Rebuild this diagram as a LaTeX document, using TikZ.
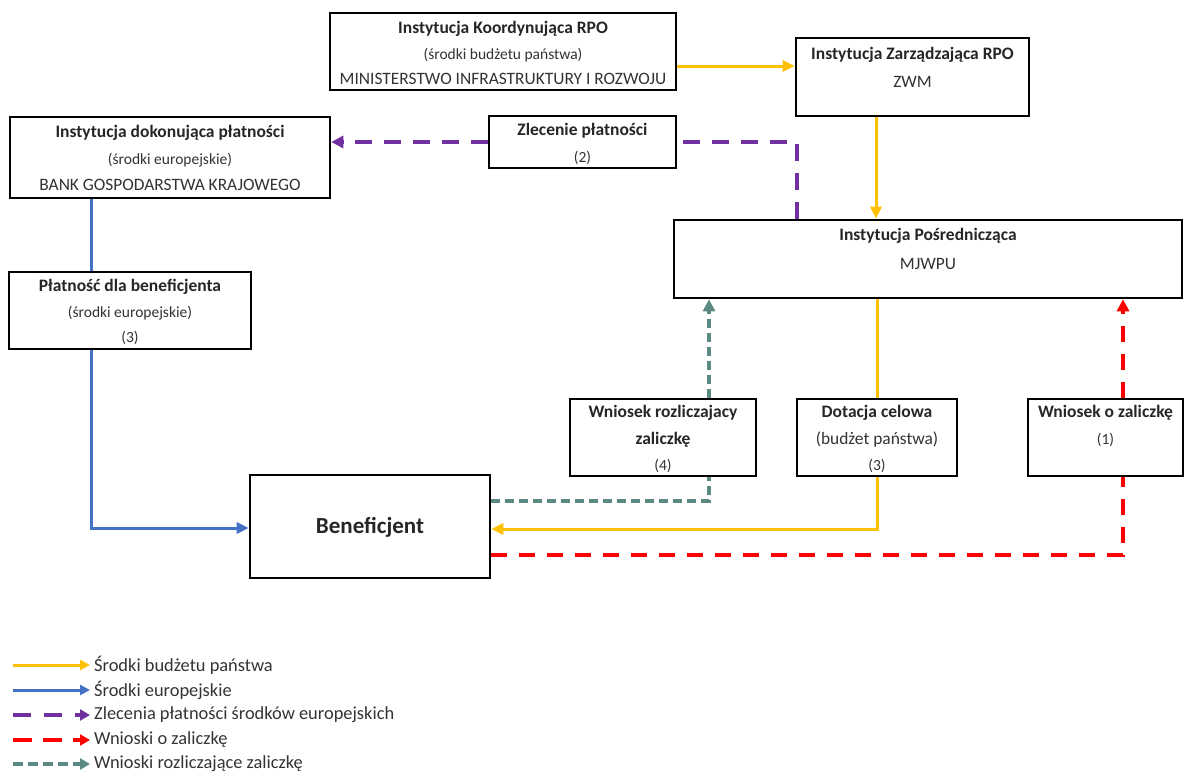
\documentclass[tikz,border=0pt]{standalone}
\usepackage{fontspec}
\setmainfont{Carlito}
\usepackage{tikz}
\usetikzlibrary{arrows.meta}

\definecolor{budget}{HTML}{FFC000}
\definecolor{euro}{HTML}{4472C4}
\definecolor{order}{HTML}{7030A0}
\definecolor{advance}{HTML}{FF0000}
\definecolor{settle}{HTML}{5B8A85}

\newcommand{\titlefont}{\fontsize{17.5}{20}\selectfont\bfseries}
\newcommand{\subfont}{\fontsize{15.5}{18}\selectfont}
\newcommand{\namefont}{\fontsize{17.4}{20}\selectfont}

\begin{document}
\begin{tikzpicture}[x=1pt,y=-1pt,
  rbox/.style={draw,line width=2.6pt,fill=white,inner sep=0pt},
  ttl/.style={inner sep=0pt,font=\titlefont,text=black!85},
  sub/.style={inner sep=0pt,font=\subfont,text=black!80},
  nam/.style={inner sep=0pt,font=\namefont,text=black!80},
  lgtxt/.style={anchor=west,inner sep=0pt,inner xsep=4pt,font=\fontsize{18.4}{21}\selectfont,text=black!80}]
\tikzstyle{budget line} = [draw=budget,line width=3pt]
\tikzstyle{budget edge} = [budget line,-{Triangle[length=12pt,width=11pt]}]
\tikzstyle{euro line} = [draw=euro,line width=3pt]
\tikzstyle{euro edge} = [euro line,-{Triangle[length=12pt,width=11pt]}]
\tikzstyle{order line} = [draw=order,line width=4pt,dash pattern=on 17pt off 12pt]
\tikzstyle{order edge} = [order line,-{Triangle[length=12pt,width=12pt]}]
\tikzstyle{advance line} = [draw=advance,line width=4pt,dash pattern=on 16pt off 12pt]
\tikzstyle{advance edge} = [advance line,-{Triangle[length=12pt,width=12pt]}]
\tikzstyle{settle line} = [draw=settle,line width=3.6pt,dash pattern=on 9pt off 5pt]
\tikzstyle{settle edge} = [settle line,-{Triangle[length=12pt,width=12pt]}]

\useasboundingbox (0,0) rectangle (1192,774);

% Boxes
\node[rbox,minimum width=346pt,minimum height=77pt] (ikrpo) at (503,51.5) {};
\node[rbox,minimum width=233pt,minimum height=78pt] (izrpo) at (912.5,77) {};
\node[rbox,minimum width=320pt,minimum height=81pt] (ibgk) at (170,157.5) {};
\node[rbox,minimum width=187pt,minimum height=52pt] (zlec) at (582.5,142) {};
\node[rbox,minimum width=508pt,minimum height=78pt] (ip) at (928,259) {};
\node[rbox,minimum width=242pt,minimum height=77pt] (plat) at (130,310.5) {};
\node[rbox,minimum width=186pt,minimum height=77pt] (wr) at (663,437.5) {};
\node[rbox,minimum width=160pt,minimum height=77pt] (dot) at (877,437.5) {};
\node[rbox,minimum width=155pt,minimum height=77pt] (woz) at (1105.5,437.5) {};
\node[rbox,minimum width=240pt,minimum height=103pt] (ben) at (370,526.5) {};

% Box texts
\node[ttl] (ikrpo1) at (503,29) {Instytucja Koordynująca RPO};
\node[sub] (ikrpo2) at (503,55) {(środki budżetu państwa)};
\node[nam] (ikrpo3) at (503,79) {MINISTERSTWO INFRASTRUKTURY I ROZWOJU};

\node[ttl] (izrpo1) at (912.5,55) {Instytucja Zarządzająca RPO};
\node[nam] (izrpo2) at (912.5,82) {ZWM};

\node[ttl] (ibgk1) at (170,133) {Instytucja dokonująca płatności};
\node[sub] (ibgk2) at (170,160) {(środki europejskie)};
\node[nam] (ibgk3) at (170,185) {BANK GOSPODARSTWA KRAJOWEGO};

\node[ttl] (zlec1) at (582.5,131) {Zlecenie płatności};
\node[sub] (zlec2) at (582.5,158) {(2)};

\node[ttl] (ip1) at (928,236) {Instytucja Pośrednicząca};
\node[nam] (ip2) at (928,264) {MJWPU};

\node[ttl] (plat1) at (130,287) {Płatność dla beneficjenta};
\node[sub] (plat2) at (130,313) {(środki europejskie)};
\node[sub] (plat3) at (130,338) {(3)};

\node[ttl] (wr1) at (663,413) {Wniosek rozliczajacy};
\node[ttl] (wr2) at (663,440) {zaliczkę};
\node[sub] (wr3) at (663,466) {(4)};

\node[ttl] (dot1) at (877,413) {Dotacja celowa};
\node[nam] (dot2) at (877,440) {(budżet państwa)};
\node[sub] (dot3) at (877,466) {(3)};

\node[ttl] (woz1) at (1105.5,413) {Wniosek o zaliczkę};
\node[sub] (woz2) at (1105.5,440) {(1)};

\node[ttl,font=\fontsize{23}{26}\selectfont\bfseries] (ben1) at (370,527) {Beneficjent};

% State budget flow
\draw[budget edge] (ikrpo.east |- 0,66) -- (izrpo.west |- 0,66);
\draw[budget edge] (izrpo.south -| 876,0) -- (ip.north -| 876,0);
\draw[budget line] (ip.south -| dot.north) -- (dot.north);
\draw[budget edge] (dot.south) |- (ben.east |- 0,529);

% European funds flow
\draw[euro line] (ibgk.south -| 91,0) -- (plat.north -| 91,0);
\draw[euro edge] (plat.south -| 91,0) |- (ben.west |- 0,528);

% Payment orders
\draw[order line] (ip.north -| 797,0) |- (zlec.east);
\draw[order edge] (zlec.west) -- (ibgk.east |- zlec.west);

% Advance requests
\draw[advance line] (ben.east |- 0,555) -| (woz.south -| 1123,0);
\draw[advance edge] (woz.north -| 1123,0) -- (ip.south -| 1123,0);

% Settlement requests
\draw[settle line] (ben.east |- 0,501) -| (wr.south -| 709,0);
\draw[settle edge] (wr.north -| 709,0) -- (ip.south -| 709,0);

% Legend
\coordinate (lg1s) at (13,665);
\coordinate (lg2s) at (13,690);
\coordinate (lg3s) at (13,715);
\coordinate (lg4s) at (13,740);
\coordinate (lg5s) at (13,764);
\node[lgtxt] (lg1) at (90,665) {Środki budżetu państwa};
\node[lgtxt] (lg2) at (90,690) {Środki europejskie};
\node[lgtxt] (lg3) at (90,715) {Zlecenia płatności środków europejskich};
\node[lgtxt] (lg4) at (90,740) {Wnioski o zaliczkę};
\node[lgtxt] (lg5) at (90,764) {Wnioski rozliczające zaliczkę};
\draw[budget line,-{Triangle[length=10pt,width=10pt]}] (lg1s) -- (lg1.west);
\draw[euro line,-{Triangle[length=10pt,width=10pt]}] (lg2s) -- (lg2.west);
\draw[order line,dash pattern=on 18pt off 13pt,-{Triangle[length=10pt,width=11pt]}] (lg3s) -- (lg3.west);
\draw[advance line,dash pattern=on 19pt off 11pt,-{Triangle[length=10pt,width=11pt]}] (lg4s) -- (lg4.west);
\draw[settle line,dash pattern=on 10pt off 5pt,-{Triangle[length=10pt,width=11pt]}] (lg5s) -- (lg5.west);
\end{tikzpicture}
\end{document}
